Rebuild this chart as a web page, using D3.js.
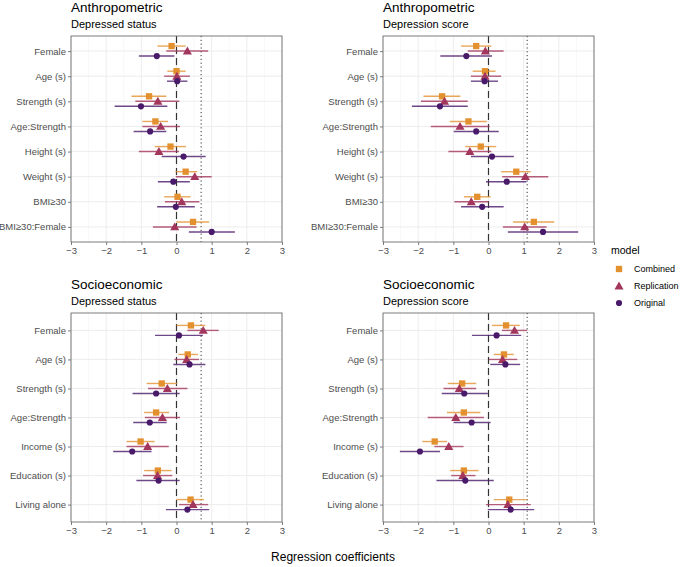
<!DOCTYPE html>
<html>
<head>
<meta charset="utf-8">
<script src="https://cdn.jsdelivr.net/npm/d3@7"></script>
<style>
  html, body { margin: 0; padding: 0; background: #fff; }
  svg { display: block; font-family: "Liberation Sans", Arial, Helvetica, sans-serif; }
</style>
</head>
<body>
<svg id="chart" width="680" height="567"></svg>
<script>
// ---------------- DATA ----------------
const models = ["Combined", "Replication", "Original"];
const modelColors = ["#E3912F", "#A3365C", "#4A1A6A"];
const xTicks = [-3, -2, -1, 0, 1, 2, 3];

const anthroCategories = ["Female", "Age (s)", "Strength (s)", "Age:Strength", "Height (s)", "Weight (s)", "BMI\u226530", "BMI\u226530:Female"];
const socioCategories = ["Female", "Age (s)", "Strength (s)", "Age:Strength", "Income (s)", "Education (s)", "Living alone"];

const refStatus = 0.7;
const refScore = 1.1;

// [estimate, lower, upper]
const anthroStatusCombined = [[-0.14,-0.54,0.26],[0.0,-0.26,0.26],[-0.78,-1.28,-0.29],[-0.60,-0.97,-0.24],[-0.17,-0.62,0.27],[0.26,-0.03,0.59],[0.03,-0.35,0.40],[0.47,0.0,0.93]];
const anthroStatusReplication = [[0.31,-0.29,0.90],[0.01,-0.35,0.38],[-0.53,-1.17,0.08],[-0.45,-0.97,0.10],[-0.50,-1.07,0.07],[0.52,-0.02,1.0],[0.15,-0.33,0.65],[-0.05,-0.67,0.57]];
const anthroStatusOriginal = [[-0.56,-1.07,-0.06],[0.02,-0.27,0.31],[-1.01,-1.76,-0.26],[-0.75,-1.22,-0.29],[0.20,-0.42,0.83],[-0.09,-0.53,0.38],[-0.02,-0.55,0.52],[1.0,0.35,1.66]];

const anthroScoreCombined = [[-0.35,-0.78,0.08],[-0.10,-0.45,0.20],[-1.32,-1.85,-0.80],[-0.57,-1.10,-0.05],[-0.22,-0.66,0.22],[0.79,0.36,1.20],[-0.32,-0.70,0.06],[1.29,0.70,1.87]];
const anthroScoreReplication = [[-0.09,-0.59,0.43],[-0.10,-0.50,0.36],[-1.25,-1.92,-0.59],[-0.81,-1.64,0.03],[-0.53,-1.14,0.08],[1.05,0.39,1.70],[-0.49,-0.97,0.01],[1.03,0.41,1.65]];
const anthroScoreOriginal = [[-0.63,-1.37,0.10],[-0.11,-0.50,0.27],[-1.38,-2.18,-0.59],[-0.35,-0.99,0.29],[0.10,-0.50,0.72],[0.52,-0.07,1.08],[-0.18,-0.78,0.43],[1.55,0.55,2.55]];

const socioStatusCombined = [[0.41,0.0,0.82],[0.32,0.05,0.61],[-0.42,-0.85,0.02],[-0.58,-0.92,-0.21],[-1.02,-1.42,-0.62],[-0.53,-0.92,-0.14],[0.40,0.0,0.78]];
const socioStatusReplication = [[0.76,0.31,1.20],[0.29,-0.06,0.64],[-0.26,-0.81,0.31],[-0.40,-0.90,0.10],[-0.82,-1.42,-0.22],[-0.54,-0.95,-0.12],[0.47,0.07,0.90]];
const socioStatusOriginal = [[0.07,-0.61,0.75],[0.37,-0.09,0.82],[-0.58,-1.25,0.09],[-0.76,-1.23,-0.28],[-1.26,-1.80,-0.71],[-0.51,-1.14,0.09],[0.31,-0.30,0.93]];

const socioScoreCombined = [[0.50,0.10,0.89],[0.44,0.15,0.72],[-0.75,-1.16,-0.35],[-0.70,-1.18,-0.23],[-1.53,-1.88,-1.18],[-0.70,-1.09,-0.28],[0.59,0.15,1.10]];
const socioScoreReplication = [[0.74,0.38,1.10],[0.40,0.01,0.82],[-0.83,-1.28,-0.35],[-0.93,-1.73,-0.13],[-1.13,-1.54,-0.71],[-0.73,-1.06,-0.37],[0.55,-0.07,1.20]];
const socioScoreOriginal = [[0.23,-0.47,0.93],[0.48,0.05,0.90],[-0.69,-1.33,-0.02],[-0.48,-0.99,0.06],[-1.95,-2.52,-1.38],[-0.66,-1.48,0.15],[0.63,-0.02,1.30]];

// ---------------- LAYOUT ----------------
const panels = [
  { title: "Anthropometric", sub: "Depressed status", cats: anthroCategories, series: [anthroStatusCombined, anthroStatusReplication, anthroStatusOriginal], ref: refStatus, x0: 71, x1: 282, y0: 36, y1: 242 },
  { title: "Anthropometric", sub: "Depression score", cats: anthroCategories, series: [anthroScoreCombined, anthroScoreReplication, anthroScoreOriginal], ref: refScore, x0: 383, x1: 594, y0: 36, y1: 242 },
  { title: "Socioeconomic", sub: "Depressed status", cats: socioCategories, series: [socioStatusCombined, socioStatusReplication, socioStatusOriginal], ref: refStatus, x0: 71, x1: 282, y0: 313, y1: 522 },
  { title: "Socioeconomic", sub: "Depression score", cats: socioCategories, series: [socioScoreCombined, socioScoreReplication, socioScoreOriginal], ref: refScore, x0: 383, x1: 594, y0: 313, y1: 522 }
];

const svg = d3.select("#chart");
const color = d3.scaleOrdinal().domain(models).range(modelColors);
const dodge = d3.scalePoint().domain(models).range([-5, 5]);

const symSquare = d3.symbol().type(d3.symbolSquare).size(40);
const symTriangle = d3.symbol().type(d3.symbolTriangle).size(36);
const symCircle = d3.symbol().type(d3.symbolCircle).size(30);
const shapeFor = { Combined: symSquare, Replication: symTriangle, Original: symCircle };

panels.forEach(p => {
  const x = d3.scaleLinear().domain([-3, 3]).range([p.x0, p.x1]);
  const y = d3.scalePoint().domain(p.cats).range([p.y0, p.y1]).padding(0.6);
  const g = svg.append("g");

  g.append("rect").attr("x", p.x0).attr("y", p.y0).attr("width", p.x1 - p.x0).attr("height", p.y1 - p.y0).attr("fill", "#fff");

  // minor grid
  const minor = d3.range(-2.5, 3, 1);
  g.selectAll(".minor").data(minor).join("line")
    .attr("x1", d => x(d)).attr("x2", d => x(d)).attr("y1", p.y0).attr("y2", p.y1)
    .attr("stroke", "#F4F4F4").attr("stroke-width", 0.6);
  // major grid
  g.selectAll(".majorx").data(xTicks).join("line")
    .attr("x1", d => x(d)).attr("x2", d => x(d)).attr("y1", p.y0).attr("y2", p.y1)
    .attr("stroke", "#EBEBEB").attr("stroke-width", 0.9);
  g.selectAll(".majory").data(p.cats).join("line")
    .attr("x1", p.x0).attr("x2", p.x1).attr("y1", d => y(d)).attr("y2", d => y(d))
    .attr("stroke", "#EBEBEB").attr("stroke-width", 0.9);

  // reference lines
  g.append("line").attr("x1", x(0)).attr("x2", x(0)).attr("y1", p.y0).attr("y2", p.y1)
    .attr("stroke", "#333").attr("stroke-width", 1.2).attr("stroke-dasharray", "7,4");
  g.append("line").attr("x1", x(p.ref)).attr("x2", x(p.ref)).attr("y1", p.y0).attr("y2", p.y1)
    .attr("stroke", "#333").attr("stroke-width", 1).attr("stroke-dasharray", "1.2,2.6");

  // error bars + points
  models.forEach((m, mi) => {
    const rows = p.series[mi].map((v, i) => ({ cat: p.cats[i], est: v[0], lo: v[1], hi: v[2] }));
    g.selectAll(".ci" + mi).data(rows).join("line")
      .attr("x1", d => x(d.lo)).attr("x2", d => x(d.hi))
      .attr("y1", d => y(d.cat) + dodge(m)).attr("y2", d => y(d.cat) + dodge(m))
      .attr("stroke", color(m)).attr("stroke-opacity", 0.8).attr("stroke-width", 1.4);
  });
  models.forEach((m, mi) => {
    const rows = p.series[mi].map((v, i) => ({ cat: p.cats[i], est: v[0] }));
    g.selectAll(".pt" + mi).data(rows).join("path")
      .attr("d", shapeFor[m]())
      .attr("transform", d => `translate(${x(d.est)},${y(d.cat) + dodge(m) + (m === "Replication" ? 0.8 : 0)})`)
      .attr("fill", color(m));
  });

  // border
  g.append("rect").attr("x", p.x0).attr("y", p.y0).attr("width", p.x1 - p.x0).attr("height", p.y1 - p.y0)
    .attr("fill", "none").attr("stroke", "#6E6E6E").attr("stroke-width", 0.9);

  // axes
  const xa = g.append("g").attr("transform", `translate(0,${p.y1})`)
    .call(d3.axisBottom(x).tickValues(xTicks).tickFormat(d3.format("d")).tickSize(3).tickPadding(2));
  const ya = g.append("g").attr("transform", `translate(${p.x0},0)`)
    .call(d3.axisLeft(y).tickSize(3).tickPadding(2));
  [xa, ya].forEach(a => {
    a.select(".domain").remove();
    a.selectAll(".tick line").attr("stroke", "#6E6E6E").attr("stroke-width", 0.9);
    a.selectAll(".tick text").attr("fill", "#4D4D4D").style("font-size", "9.5px").style("font-family", "'Liberation Sans', Arial, sans-serif");
  });

  // titles
  g.append("text").attr("x", p.x0).attr("y", p.y0 - 24.5).text(p.title)
    .attr("fill", "#000").style("font-size", "13.5px");
  g.append("text").attr("x", p.x0).attr("y", p.y0 - 8.5).text(p.sub)
    .attr("fill", "#000").style("font-size", "11px");
});

// x-axis title
svg.append("text").attr("x", 333).attr("y", 561).attr("text-anchor", "middle")
  .style("font-size", "12px").attr("fill", "#000").text("Regression coefficients");

// legend
const lg = svg.append("g");
lg.append("text").attr("x", 611).attr("y", 254).style("font-size", "10.5px").attr("fill", "#000").text("model");
const legY = d3.scalePoint().domain(models).range([269, 303]);
models.forEach(m => {
  lg.append("path").attr("d", shapeFor[m]())
    .attr("transform", `translate(619,${legY(m) + (m === "Replication" ? 0.8 : 0)})`).attr("fill", color(m));
  lg.append("text").attr("x", 634).attr("y", legY(m) + 3.3).style("font-size", "9px").attr("fill", "#000").text(m);
});
</script>
</body>
</html>
